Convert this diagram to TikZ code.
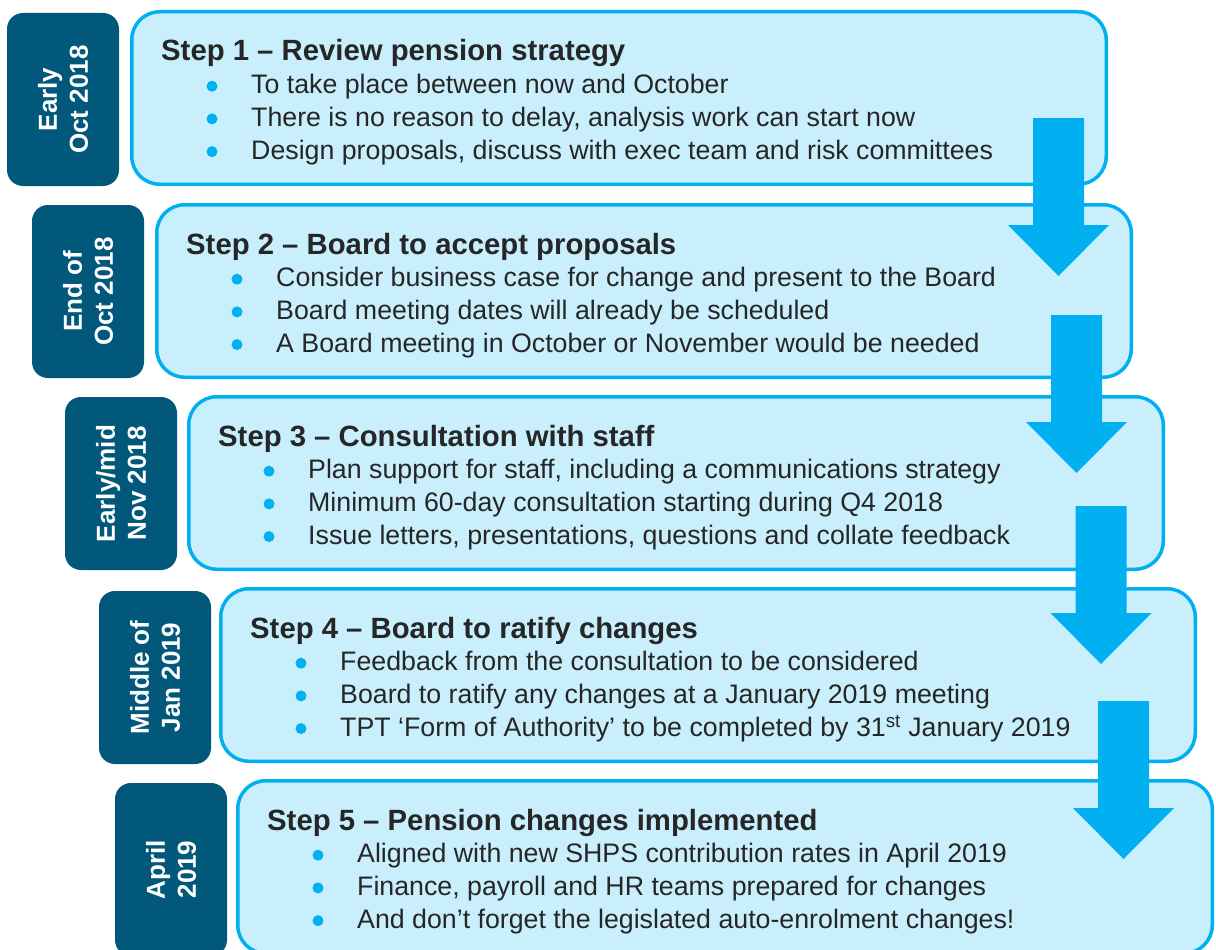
\documentclass[tikz,border=0pt]{standalone}
\usepackage{fontspec}
\setmainfont{Liberation Sans}
\usepackage{tikz}
\usetikzlibrary{calc}
\definecolor{blu}{HTML}{00B0F0}
\definecolor{petrolio}{HTML}{02587A}
\definecolor{celeste}{HTML}{C9EFFD}
\definecolor{testo}{HTML}{262626}

\tikzset{
  riqdata/.style={rectangle, rounded corners=16pt, fill=petrolio, minimum width=112pt,
    minimum height=173pt, inner sep=0pt, outer sep=0pt, anchor=north west},
  riqpasso/.style={rectangle, rounded corners=28pt, draw=blu, line width=3.5pt, fill=celeste,
    minimum width=974.5pt, minimum height=172.5pt, inner sep=0pt, anchor=north west},
  datatesto/.style={rotate=90, text=white, align=center, inner sep=0pt,
    font=\fontsize{26}{31}\selectfont\bfseries},
  titolo/.style={anchor=base west, text=testo, inner sep=0pt,
    font=\fontsize{29.3}{35}\selectfont\bfseries},
  voce/.style={anchor=base west, text=testo, inner sep=0pt,
    font=\fontsize{26.75}{33}\selectfont},
  pallino/.style={circle, fill=blu, minimum size=11pt, inner sep=0pt},
  freccia/.style={fill=blu},
}

\begin{document}
\begin{tikzpicture}[x=1pt, y=-1pt]
  \useasboundingbox (0,0) rectangle (1216,950);
  % Date e riquadri dei passi
  \foreach \n/\dx/\dy/\sx/\sy/\quando in {1/7/13/130/10/{Early\\Oct 2018},
      2/32/205/155/203/{End of\\Oct 2018}, 3/65/397/187/395/{Early/mid\\Nov 2018},
      4/99/591/219/587/{Middle of\\Jan 2019}, 5/115/783/236/779/{April\\2019}} {
    \node[riqdata] (d\n) at (\dx,\dy) {};
    \node[datatesto] (q\n) at (d\n.center) {\quando};
    \node[riqpasso] (s\n) at (\sx,\sy) {};
  }
  % Frecce
  \foreach \cx/\ty in {1058.5/118, 1076.5/315, 1101/506, 1123.5/701} {
    \fill[freccia] (\cx-25.5,\ty) -- (\cx+25.5,\ty) -- (\cx+25.5,\ty+107)
      -- (\cx+50.5,\ty+107) -- (\cx,\ty+158) -- (\cx-50.5,\ty+107)
      -- (\cx-25.5,\ty+107) -- cycle;
  }
  % Titoli
  \foreach \n/\tit in {1/{Step 1 – Review pension strategy},
      2/{Step 2 – Board to accept proposals}, 3/{Step 3 – Consultation with staff},
      4/{Step 4 – Board to ratify changes}, 5/{Step 5 – Pension changes implemented}} {
    \node[titolo] (t\n) at ($(s\n.north west)+(31,51)$) {\tit};
  }
  % Voci con pallini
  \foreach \n/\i/\riga in {
      1/1/{To take place between now and October},
      1/2/{There is no reason to delay, analysis work can start now},
      1/3/{Design proposals, discuss with exec team and risk committees},
      2/1/{Consider business case for change and present to the Board},
      2/2/{Board meeting dates will already be scheduled},
      2/3/{A Board meeting in October or November would be needed},
      3/1/{Plan support for staff, including a communications strategy},
      3/2/{Minimum 60-day consultation starting during Q4 2018},
      3/3/{Issue letters, presentations, questions and collate feedback},
      4/1/{Feedback from the consultation to be considered},
      4/2/{Board to ratify any changes at a January 2019 meeting},
      4/3/{TPT ‘Form of Authority’ to be completed by 31\textsuperscript{st} January 2019},
      5/1/{Aligned with new SHPS contribution rates in April 2019},
      5/2/{Finance, payroll and HR teams prepared for changes},
      5/3/{And don’t forget the legislated auto-enrolment changes!}} {
    \node[pallino] (b\n\i) at ($(s\n.north west)+(82,43.5+32.7*\i)$) {};
    \node[voce] (v\n\i) at ($(s\n.north west)+(121,51+32.7*\i)$) {\riga};
  }
\end{tikzpicture}
\end{document}
